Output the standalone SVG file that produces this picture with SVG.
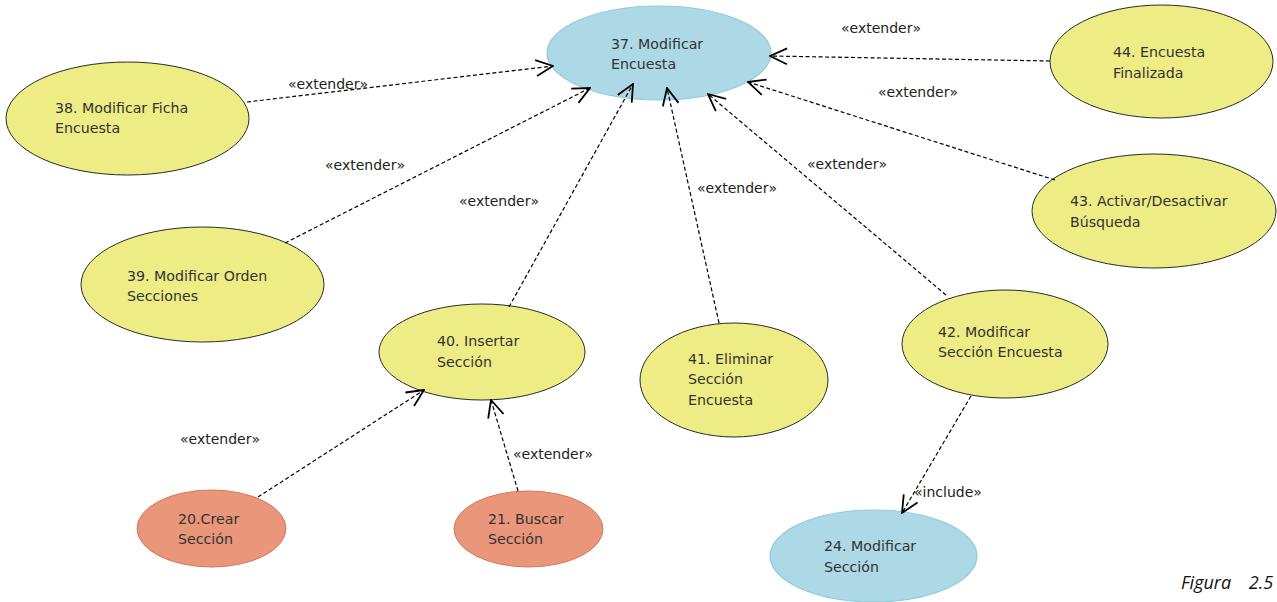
<svg xmlns="http://www.w3.org/2000/svg" width="1277" height="602" viewBox="0 0 1277 602">
<style>
.y{fill:#eeec84;stroke:#2a2a2a;stroke-width:1}
.b{fill:#add8e6;stroke:#8ecbdd;stroke-width:1.2}
.o{fill:#e9967a;stroke:#d4775a;stroke-width:1}
.t{font-family:"DejaVu Sans",Verdana,sans-serif;font-size:14.2px;fill:#333}
.l{font-family:"DejaVu Sans",Verdana,sans-serif;font-size:14px;fill:#222}
.c{fill:none;stroke:#000;stroke-width:1.2;stroke-dasharray:4,2.5}
.fig{font-family:"Open Sans","DejaVu Sans",sans-serif;font-style:italic;font-size:18px;fill:#111}
</style>
<defs>
<marker id="a" viewBox="0 0 20 20" refX="19" refY="10" markerWidth="20" markerHeight="20" markerUnits="userSpaceOnUse" orient="auto">
<path d="M2,2 L19,10 L2,18" fill="none" stroke="#000" stroke-width="1.8"/>
</marker>
</defs>
<rect width="1277" height="602" fill="#fff"/>
<g id="n37"><ellipse class="b" cx="659" cy="53" rx="112" ry="47"/><text class="t" x="611" y="49">37. Modificar</text><text class="t" x="611" y="69">Encuesta</text></g>
<g id="n38"><ellipse class="y" cx="127.5" cy="118.5" rx="121.5" ry="56.5"/><text class="t" x="55" y="113">38. Modificar Ficha</text><text class="t" x="55" y="133">Encuesta</text></g>
<g id="n39"><ellipse class="y" cx="202.5" cy="284.5" rx="121.5" ry="57.5"/><text class="t" x="127" y="281">39. Modificar Orden</text><text class="t" x="127" y="301">Secciones</text></g>
<g id="n40"><ellipse class="y" cx="482" cy="352" rx="103" ry="48"/><text class="t" x="437" y="346">40. Insertar</text><text class="t" x="437" y="367">Sección</text></g>
<g id="n41"><ellipse class="y" cx="734" cy="380" rx="94" ry="57"/><text class="t" x="688" y="364">41. Eliminar</text><text class="t" x="688" y="384">Sección</text><text class="t" x="688" y="405">Encuesta</text></g>
<g id="n42"><ellipse class="y" cx="1005" cy="344" rx="103" ry="54"/><text class="t" x="938" y="337">42. Modificar</text><text class="t" x="938" y="357">Sección Encuesta</text></g>
<g id="n43"><ellipse class="y" cx="1154" cy="211" rx="122" ry="57"/><text class="t" x="1070" y="206">43. Activar/Desactivar</text><text class="t" x="1070" y="227">Búsqueda</text></g>
<g id="n44"><ellipse class="y" cx="1161.5" cy="61.5" rx="111.5" ry="56.5"/><text class="t" x="1113" y="57">44. Encuesta</text><text class="t" x="1113" y="78">Finalizada</text></g>
<g id="n20"><ellipse class="o" cx="211.5" cy="528.5" rx="74.5" ry="38.5"/><text class="t" x="178" y="524">20.Crear</text><text class="t" x="178" y="544">Sección</text></g>
<g id="n21"><ellipse class="o" cx="528.5" cy="529" rx="74.5" ry="38"/><text class="t" x="488" y="524">21. Buscar</text><text class="t" x="488" y="544">Sección</text></g>
<g id="n24"><ellipse class="b" cx="873.5" cy="556" rx="103.5" ry="46"/><text class="t" x="824" y="551">24. Modificar</text><text class="t" x="824" y="572">Sección</text></g>
<g id="connectors">
<line class="c" x1="247" y1="102" x2="553" y2="66" marker-end="url(#a)"/>
<line class="c" x1="285" y1="243" x2="590" y2="88" marker-end="url(#a)"/>
<line class="c" x1="509" y1="307" x2="633" y2="84" marker-end="url(#a)"/>
<line class="c" x1="719" y1="323" x2="667" y2="88" marker-end="url(#a)"/>
<line class="c" x1="946" y1="295" x2="708" y2="94" marker-end="url(#a)"/>
<line class="c" x1="1055" y1="180" x2="748" y2="82" marker-end="url(#a)"/>
<line class="c" x1="1050" y1="61" x2="770" y2="56" marker-end="url(#a)"/>
<line class="c" x1="258" y1="497" x2="424" y2="390" marker-end="url(#a)"/>
<line class="c" x1="518" y1="491" x2="491" y2="400" marker-end="url(#a)"/>
<line class="c" x1="971" y1="396" x2="902" y2="513" marker-end="url(#a)"/>
<text class="l" x="288" y="89">«extender»</text>
<text class="l" x="325" y="170">«extender»</text>
<text class="l" x="459" y="206">«extender»</text>
<text class="l" x="697" y="193">«extender»</text>
<text class="l" x="807" y="169">«extender»</text>
<text class="l" x="878" y="97">«extender»</text>
<text class="l" x="841" y="33">«extender»</text>
<text class="l" x="180" y="444">«extender»</text>
<text class="l" x="513" y="459">«extender»</text>
<text class="l" x="914" y="497">«include»</text>
</g>
<text class="fig" x="1181" y="589" word-spacing="13">Figura 2.5</text>
</svg>
